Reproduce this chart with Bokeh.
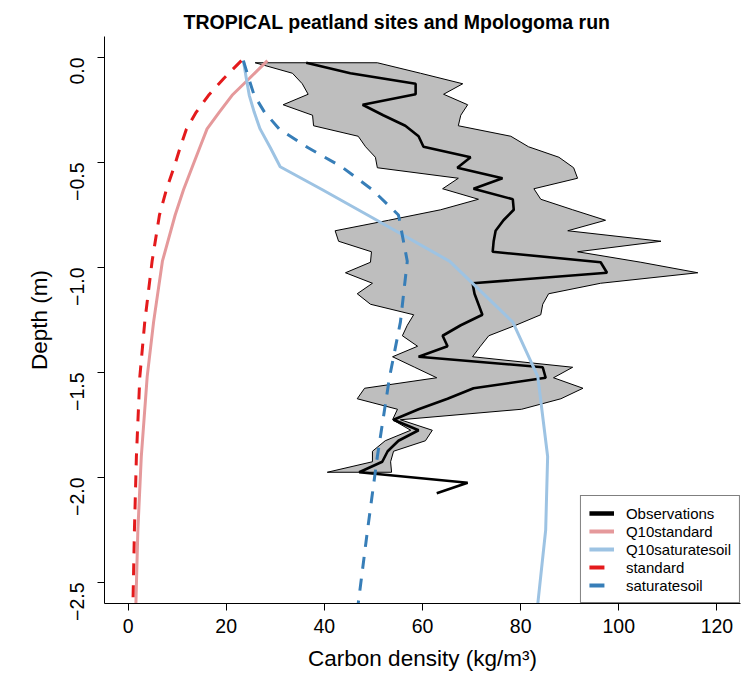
import math
from bokeh.plotting import figure
from bokeh.models import Range1d, Legend, LegendItem, FixedTicker
from bokeh.embed import file_html
from bokeh.resources import INLINE

# ---------------- data ----------------
obs_depth = [-0.025, -0.075, -0.125, -0.175, -0.225, -0.275, -0.325, -0.375, -0.425, -0.475,
             -0.525, -0.575, -0.625, -0.675, -0.725, -0.775, -0.825, -0.875, -0.925, -0.975,
             -1.025, -1.075, -1.125, -1.175, -1.225, -1.275, -1.325, -1.375, -1.425, -1.475,
             -1.525, -1.575, -1.625, -1.675, -1.725, -1.775, -1.825, -1.875, -1.925, -1.975,
             -2.025, -2.075]
obs_mean = [36.3, 45.3, 58.6, 58.6, 47.8, 52.0, 56.5, 59.2, 60.2, 69.8,
            67.1, 76.3, 70.4, 78.4, 78.6, 76.5, 74.9, 74.5, 74.3, 96.3,
            97.6, 70.2, 70.6, 71.4, 72.2, 67.8, 64.1, 65.1, 59.2, 84.5,
            85.1, 70.4, 65.1, 59.2, 54.1, 59.2, 55.1, 52.9, 51.8, 47.1,
            69.2, 62.9]
obs_lower = [25.9, 33.5, 35.5, 36.7, 31.6, 37.6, 37.8, 46.9, 48.4, 50.4,
             50.8, 67.3, 64.1, 71.4, 63.7, 53.1, 42.2, 42.9, 49.6, 49.4,
             44.3, 49.8, 46.7, 49.4, 58.2, 56.9, 55.9, 59.0, 53.9, 58.4,
             62.9, 48.2, 46.7, 54.9, 53.9, 57.6, 52.4, 49.8, 49.8, 40.6]
obs_upper = [50.8, 59.6, 68.2, 64.3, 69.2, 67.8, 67.3, 78.0, 81.6, 87.8,
             90.8, 91.6, 82.7, 84.1, 90.6, 97.3, 89.6, 108.6, 91.6, 104.5,
             116.1, 96.3, 85.7, 84.5, 84.1, 79.0, 73.5, 71.8, 70.2, 90.6,
             86.7, 92.7, 88.2, 80.2, 55.5, 62.0, 60.6, 54.1, 53.5, 53.7]

model_depth = [-0.015, -0.1, -0.18, -0.26, -0.34, -0.43, -0.52, -0.63, -0.75, -0.97,
               -1.26, -1.52, -1.9, -2.25, -2.6]
q10_standard = [28.4, 24.7, 21.2, 18.6, 16.1, 14.6, 13.1, 11.3, 9.6, 7.0,
                5.2, 3.9, 2.7, 2.0, 1.6]
q10_saturatesoil = [23.5, 24.1, 24.7, 25.7, 26.9, 29.0, 31.0, 39.6, 48.8, 65.5,
                    78.4, 83.5, 85.5, 85.1, 83.5]
standard = [23.1, 19.5, 16.4, 13.9, 11.9, 10.6, 9.4, 7.8, 6.4, 4.9,
            3.4, 2.4, 1.7, 1.3, 1.0]
saturatesoil = [23.5, 24.6, 25.7, 27.8, 30.8, 36.7, 43.5, 49.8, 55.1, 56.9,
                55.5, 53.3, 50.8, 48.8, 46.9]

x_ticks = [0, 20, 40, 60, 80, 100, 120]
y_ticks = [0.0, -0.5, -1.0, -1.5, -2.0, -2.5]
y_tick_labels = ["0.0", "\u22120.5", "\u22121.0", "\u22121.5", "\u22122.0", "\u22122.5"]
legend_labels = ["Observations", "Q10standard", "Q10saturatesoil", "standard", "saturatesoil"]

# ---------------- styles ----------------
FONT = "Liberation Sans"
C_OBS = "#000000"
C_Q10STD = "#E5999B"
C_Q10SAT = "#9DC3E3"
C_STD = "#E41A1C"
C_SAT = "#377EB8"
C_BAND = "#BEBEBE"
NAN = float("nan")

p = figure(width=744, height=684, output_backend="svg", toolbar_location=None,
           x_range=Range1d(-4.8, 124.8), y_range=Range1d(-2.6, 0.1),
           min_border_left=104, min_border_right=4, min_border_top=36, min_border_bottom=81)
p.outline_line_color = None
p.xgrid.visible = False
p.ygrid.visible = False
p.background_fill_color = "white"
p.border_fill_color = "white"

p.title.text = "TROPICAL peatland sites and Mpologoma run"
p.title.text_font = FONT
p.title.text_font_size = "19.5px"
p.title.text_font_style = "bold"
p.title.text_color = "black"
p.title.align = "left"
p.title.offset = 79
p.title.standoff = 3
p.title.vertical_align = "top"

# band
n_band = len(obs_lower)
band_x = list(obs_lower) + list(reversed(obs_upper))
band_y = list(obs_depth[:n_band]) + list(reversed(obs_depth[:n_band]))
p.patch(band_x, band_y, fill_color=C_BAND, line_color="black", line_width=1)

dash = "12 10"
p.line(obs_mean, obs_depth, line_color=C_OBS, line_width=2.6)
p.line(q10_standard, model_depth, line_color=C_Q10STD, line_width=3)
p.line(q10_saturatesoil, model_depth, line_color=C_Q10SAT, line_width=3)
p.line(standard, model_depth, line_color=C_STD, line_width=3, line_dash=dash)
p.line(saturatesoil, model_depth, line_color=C_SAT, line_width=3, line_dash=dash)

# legend-only sample renderers (a single undefined point, nothing drawn in the plot)
l_obs = p.line([NAN], [NAN], line_color=C_OBS, line_width=4.5)
l_q10std = p.line([NAN], [NAN], line_color=C_Q10STD, line_width=4)
l_q10sat = p.line([NAN], [NAN], line_color=C_Q10SAT, line_width=4)
l_std = p.line([NAN], [NAN], line_color=C_STD, line_width=4, line_dash="15 20")
l_sat = p.line([NAN], [NAN], line_color=C_SAT, line_width=4, line_dash="15 20")

legend = Legend(items=[LegendItem(label=lab, renderers=[r]) for lab, r in
                       zip(legend_labels, [l_obs, l_q10std, l_q10sat, l_std, l_sat])],
                location="bottom_right")
legend.margin = 0
legend.padding = 8
legend.spacing = 0
legend.glyph_width = 25
legend.glyph_height = 18
legend.label_height = 18
legend.label_standoff = 12
legend.label_text_font = FONT
legend.label_text_font_size = "15px"
legend.label_text_color = "black"
legend.border_line_color = "black"
legend.border_line_width = 1
legend.background_fill_color = "white"
legend.background_fill_alpha = 1
p.add_layout(legend)

# axes
for ax in (p.xaxis[0], p.yaxis[0]):
    ax.axis_line_color = "black"
    ax.axis_line_width = 1
    ax.major_tick_line_color = "black"
    ax.major_tick_out = 7
    ax.major_tick_in = 0
    ax.minor_tick_out = 0
    ax.minor_tick_in = 0
    ax.major_label_text_font = FONT
    ax.major_label_text_font_size = "19.5px"
    ax.major_label_text_color = "black"
    ax.axis_label_text_font = FONT
    ax.axis_label_text_font_size = "22.5px"
    ax.axis_label_text_font_style = "normal"
    ax.axis_label_text_color = "black"

p.xaxis[0].ticker = FixedTicker(ticks=x_ticks)
p.xaxis[0].axis_label = "Carbon density (kg/m\u00b3)"
p.xaxis[0].major_label_standoff = 8
p.xaxis[0].axis_label_standoff = 10

p.yaxis[0].ticker = FixedTicker(ticks=y_ticks)
p.yaxis[0].major_label_overrides = {t: s for t, s in zip(y_ticks, y_tick_labels)}
p.yaxis[0].major_label_orientation = math.pi / 2
p.yaxis[0].axis_label = "Depth (m)"
p.yaxis[0].major_label_standoff = 21
p.yaxis[0].axis_label_standoff = 8

open("out.html", "w").write(file_html(p, INLINE))
